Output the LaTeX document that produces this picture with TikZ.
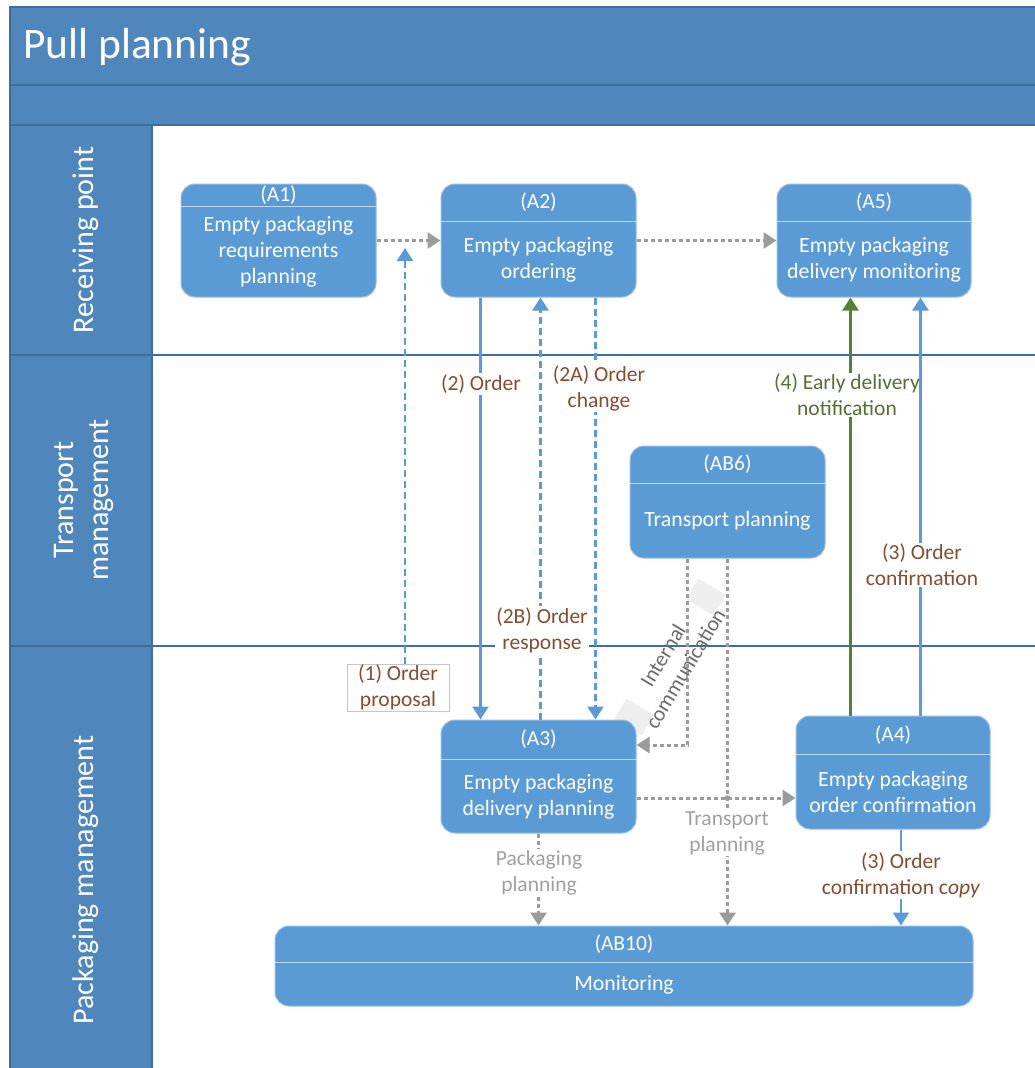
\documentclass[tikz,border=0pt]{standalone}
\usepackage{fontspec}
\setmainfont{Carlito}
\usetikzlibrary{arrows.meta,calc}

\definecolor{hdrblue}{RGB}{79,135,189}
\definecolor{hdredge}{RGB}{62,110,155}
\definecolor{boxblue}{RGB}{91,155,213}
\definecolor{boxedge}{RGB}{150,190,228}
\definecolor{laneblue}{RGB}{62,110,160}
\definecolor{flowblue}{RGB}{91,155,213}
\definecolor{flowgray}{RGB}{155,155,155}
\definecolor{lblbrown}{RGB}{133,76,48}
\definecolor{flowgreen}{RGB}{84,130,53}
\definecolor{lblgreen}{RGB}{84,112,52}
\definecolor{lblgray}{RGB}{160,160,160}

\tikzset{
  proc/.style={draw=boxedge, line width=1pt, fill=boxblue, rounded corners=14pt, inner sep=0pt},
  divline/.style={draw=boxedge!60!white, line width=0.9pt},
  hdrtxt/.style={text=white, inner sep=0pt, font=\fontsize{21.5}{26}\selectfont},
  bodytxt/.style={text=white, align=center, inner sep=0pt, font=\fontsize{21.8}{26}\selectfont},
  flowlbl/.style={fill=white, text=lblbrown, align=center, inner sep=1.5pt, font=\fontsize{21.5}{26}\selectfont},
  graylbl/.style={flowlbl, text=lblgray},
  greenlbl/.style={flowlbl, text=lblgreen},
  tip/.style={-{Triangle[width=16pt,length=13pt]}},
  solidblue/.style={tip, draw=flowblue, line width=2.3pt},
  dashblue/.style={tip, draw=flowblue, line width=2.3pt, dash pattern=on 7pt off 4pt},
  dashgray/.style={tip, draw=flowgray, line width=3pt, dash pattern=on 4.5pt off 2.5pt},
  solidgreen/.style={tip, draw=flowgreen, line width=2.3pt},
  laneline/.style={draw=laneblue, line width=1.8pt},
  lanetxt/.style={text=white, rotate=90, align=center, font=\fontsize{30}{35}\selectfont},
}

% process box: name, cx, cy, width, height, header depth, header, body
\newcommand\procbox[8]{%
  \node[proc, minimum width=#4, minimum height=#5] (#1) at (#2,#3) {};
  \draw[divline] ([yshift=-#6pt]#1.north west) -- ([yshift=-#6pt]#1.north east);
  \node[hdrtxt] (#1-h) at ($(#1.north)+(0,#6/2)$) {#7};
  \node[bodytxt] (#1-b) at ($(#1.south)!0.5!([yshift=-#6pt]#1.north)$) {#8};
}

\begin{document}
\begin{tikzpicture}[x=1pt, y=-1pt]
\useasboundingbox (0,0) rectangle (1035,1068);

% pool frame: title band, second band, lane header column, lane area
\fill[white] (0,0) rectangle (1035,1068);
\draw[hdredge, line width=1.5pt, fill=hdrblue] (10,7) rectangle (1045,85);
\draw[hdredge, line width=1.5pt, fill=hdrblue] (10,85) rectangle (1045,125);
\draw[hdredge, line width=1.5pt, fill=hdrblue] (10,125) rectangle (152,1080);
\draw[hdredge, line width=1.5pt] (10,355) -- (152,355) (10,646) -- (152,646);
\node[anchor=west, text=white, inner sep=0pt, font=\fontsize{43.5}{50}\selectfont] (title) at (23,47) {Pull planning};

% lane titles
\node[lanetxt] (lane1) at (86,240) {Receiving point};
\node[lanetxt] (lane2) at (84,500) {Transport\\management};
\node[lanetxt] (lane3) at (86,880) {Packaging management};

% lane separators
\draw[laneline] (152,355) -- (1035,355);
\draw[laneline] (152,646) -- (1035,646);

% faint end patches of the rotated label's frame
\begin{scope}[shift={(670,657)}, rotate=59]
  \fill[gray!13] (-82,-16) rectangle (-58,16);
  \fill[gray!13] (58,-16) rectangle (82,16);
\end{scope}

% process boxes
\procbox{A1}{278.5}{240.5}{195}{113}{23}{(A1)}{Empty packaging\\requirements\\planning}
\procbox{A2}{538.5}{240.5}{195}{113}{38}{(A2)}{Empty packaging\\ordering}
\procbox{A5}{874}{240.5}{194}{113}{38}{(A5)}{Empty packaging\\delivery monitoring}
\procbox{AB6}{727.5}{502}{195}{112}{38}{(AB6)}{Transport planning}
\procbox{A3}{538.5}{776.5}{195}{113}{40}{(A3)}{Empty packaging\\delivery planning}
\procbox{A4}{893}{772.5}{194}{113}{39}{(A4)}{Empty packaging\\order confirmation}
\procbox{AB10}{624}{966}{698}{80}{37}{(AB10)}{Monitoring}

% order proposal label box
\node[flowlbl, draw=gray!45, line width=0.6pt, minimum width=102, minimum height=47, inner sep=0pt] (L1) at (398,687.5) {(1) Order\\proposal};

% gray information flows
\draw[dashgray] (A1.east) -- (A2.west);
\draw[dashgray] (A2.east) -- (A5.west);
\draw[dashgray] ([xshift=58pt]AB6.south west) |- ([yshift=31.5pt]A3.east);
\draw[dashgray] ([yshift=-21.5pt]A3.east) -- ([yshift=-25.5pt]A4.west);
\draw[dashgray] (AB6.south) -- (AB6.south |- AB10.north);
\draw[dashgray] (A3.south) -- (A3.south |- AB10.north);
\coordinate (J1) at (AB6.south |- 0,798);
\fill[flowgray] (J1) circle (2.8pt);

% blue order flows
\coordinate (P1) at (405,248);
\draw[dashblue] (L1.north -| P1) -- (P1);
\draw[solidblue] ([xshift=40pt]A2.south west) -- ([xshift=40pt]A3.north west);
\draw[dashblue] ([xshift=100pt]A3.north west) -- ([xshift=100pt]A2.south west);
\draw[dashblue] ([xshift=155pt]A2.south west) -- ([xshift=155pt]A3.north west);
\draw[solidblue] ([xshift=8pt]A4.south) -- ([xshift=8pt]A4.south |- AB10.north);

% early delivery notification
\draw[solidgreen] ([xshift=55pt]A4.north west) -- ([xshift=55pt]A4.north west |- A5.south);
\node[greenlbl] (L4) at (847,395) {(4) Early delivery\\notification};

% order confirmation
\draw[solidblue] ([xshift=125pt]A4.north west) -- ([xshift=125pt]A4.north west |- A5.south);

% flow labels
\node[flowlbl] (L2) at (481,384) {(2) Order};
\node[flowlbl] (L2A) at (599,388) {(2A) Order\\change};
\node[flowlbl] (L2B) at (542,630) {(2B) Order\\response};
\node[flowlbl] (L3) at (922,565) {(3) Order\\confirmation};
\node[flowlbl] (L3c) at (901,875) {(3) Order\\confirmation c\textit{opy}};
\node[graylbl] (LP) at (539,873) {Packaging\\planning};
\node[graylbl] (LT) at (727,833) {Transport\\planning};
\node[text=gray!85!black, align=center, rotate=59, inner sep=0pt, font=\fontsize{21.5}{26}\selectfont] (LI) at (674,662) {Internal\\communication};
\end{tikzpicture}
\end{document}
